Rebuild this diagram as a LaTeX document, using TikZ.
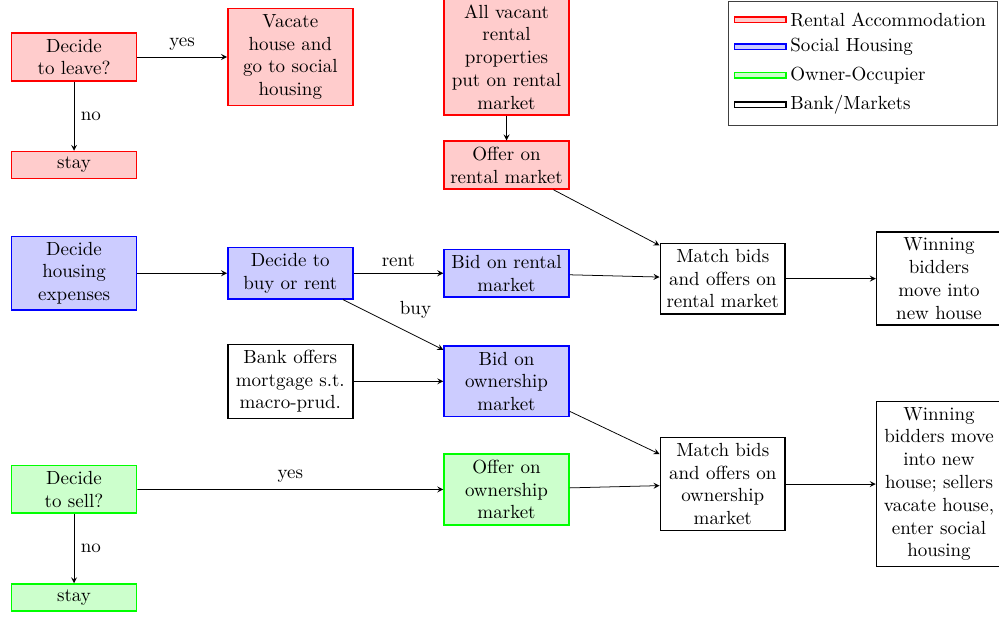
\documentclass[tikz,border=0pt]{standalone}
\usetikzlibrary{positioning}
\usetikzlibrary{matrix}
\tikzset{
    mybox/.style={draw, thick, text width=2.1cm, align=center, inner sep=3pt},
    rentcol/.style={draw=red, fill=red!20},
    socialcol/.style={draw=blue, fill=blue!20},
    ownercol/.style={draw=green, fill=green!20},
    bankcol/.style={draw=black, fill=white},
    rentbox/.style={mybox, rentcol},
    socialbox/.style={mybox, socialcol},
    ownerbox/.style={mybox, ownercol},
    bankbox/.style={mybox, bankcol},
    swatch/.style={thick, minimum width=9.5mm, minimum height=1mm, inner sep=0pt},
    mylegend/.style={
        matrix,
        draw=black!75,
        inner sep=3pt,
        column sep=-1pt,
        row sep=0pt,
        matrix of nodes,
        nodes in empty cells,
        nodes={anchor=west}
    }
}

\begin{document}
\begin{tikzpicture}[node distance = 2cm and 4cm, on grid, >=stealth]
\path[use as bounding box, clip] (-1.37,-10.36) rectangle (17.11,1.054);

\node[rentbox]                           (Leave)    {Decide to leave?};
\node[rentbox, right=of Leave]           (Vacate)   {Vacate house and go to social housing};
\node[rentbox, below=of Leave]           (StayR)    {stay};
\node[rentbox, right=of Vacate]          (Vacant)   {All vacant rental properties put on rental market};
\node[rentbox, below=of Vacant]          (OfferR)   {Offer on rental market};
\node[socialbox, below=of StayR]         (Expenses) {Decide housing expenses};
\node[socialbox, right=of Expenses]      (BuyRent)  {Decide to buy or rent};
\node[socialbox, right=of BuyRent]       (BidR)     {Bid on rental market};
\node[bankbox, right=of BidR, yshift=-1mm] (MatchR) {Match bids and offers on rental market};
\node[bankbox, right=of MatchR]          (WinR)     {Winning bidders move into new house};
\node[bankbox, below=of BuyRent]         (Bank)     {Bank offers mortgage s.t.\ macro-prud.};
\node[socialbox, right=of Bank]          (BidO)     {Bid on ownership market};
\node[ownerbox, below=4cm of Expenses]   (Sell)     {Decide to sell?};
\node[ownerbox, below=of BidO]           (OfferO)   {Offer on ownership market};
\node[bankbox, right=of OfferO, yshift=1mm] (MatchO) {Match bids and offers on ownership market};
\node[bankbox, right=of MatchO]          (WinO)     {Winning bidders move into new house; sellers vacate house, enter social housing};
\node[ownerbox, below=of Sell]           (StayG)    {stay};

% legend
\matrix[mylegend, anchor=south west] (Legend) at (12.09,-1.276) {
    |[swatch, rentcol]|   & Rental Accommodation \\
    |[swatch, socialcol]| & Social Housing \\
    |[swatch, ownercol]|  & Owner-Occupier \\
    |[swatch, bankcol]|   & Bank/Markets \\
};

\draw[->] (Leave) edge node[above] {yes} (Vacate) (Leave) to node[right] {no} (StayR);
\draw[->] (Vacant) edge (OfferR) (OfferR) to (MatchR);
\draw[->] (Expenses) edge (BuyRent) (BuyRent) edge node[above] {rent} (BidR) (BuyRent) to node[above right] {buy} (BidO);
\draw[->] (BidR) edge (MatchR) (MatchR) to (WinR);
\draw[->] (Bank) edge (BidO) (BidO) to (MatchO);
\draw[->] (Sell) edge node[above] {yes} (OfferO) (Sell) to node[right] {no} (StayG);
\draw[->] (OfferO) edge (MatchO) (MatchO) to (WinO);
\end{tikzpicture}
\end{document}
